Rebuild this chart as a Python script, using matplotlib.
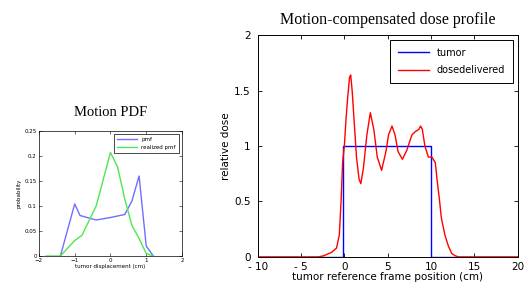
import numpy as np
import matplotlib
matplotlib.use("Agg")
import matplotlib.pyplot as plt

# left chart: motion pdf
pdf_x = [-1.4, -1.0, -0.85, -0.4, 0.0, 0.2, 0.4, 0.6, 0.8, 1.0, 1.2]
pdf_y = [0.0, 0.104, 0.081, 0.072, 0.077, 0.080, 0.083, 0.110, 0.160, 0.020, 0.0]
real_x = [-1.8, -1.4, -1.0, -0.8, -0.4, 0.0, 0.2, 0.4, 0.6, 0.8, 1.0, 1.2]
real_y = [0.0, 0.0, 0.031, 0.041, 0.100, 0.207, 0.178, 0.114, 0.061, 0.035, 0.005, 0.0]

# right chart: dose profile
tumor_x = [-10, -0.2, -0.2, 10.0, 10.0, 20]
tumor_y = [0, 0, 1, 1, 0, 0]
dose_x = [-10, -3.0, -2.4, -1.5, -0.9, -0.58, -0.38, -0.2, 0.0, 0.2, 0.4, 0.6, 0.73,
          0.9, 1.15, 1.4, 1.7, 1.9, 2.2, 2.6, 3.0, 3.4, 3.8, 4.3, 4.8, 5.1, 5.5,
          5.85, 6.2, 6.7, 7.2, 7.8, 8.2, 8.6, 8.8, 9.0, 9.3, 9.7, 10.1, 10.5,
          10.7, 11.0, 11.2, 11.6, 12.0, 12.4, 12.8, 13.2, 20]
dose_y = [0, 0, 0.01, 0.04, 0.08, 0.2, 0.5, 0.85, 1.0, 1.25, 1.45, 1.62, 1.64,
          1.5, 1.2, 0.9, 0.7, 0.66, 0.8, 1.1, 1.3, 1.15, 0.9, 0.78, 0.95, 1.1, 1.18,
          1.1, 0.95, 0.88, 0.96, 1.1, 1.13, 1.15, 1.18, 1.15, 1.0, 0.9, 0.9, 0.85,
          0.7, 0.5, 0.35, 0.2, 0.1, 0.03, 0.01, 0, 0]

fig = plt.figure(figsize=(5.26, 2.97), dpi=100)

# left
ax1 = fig.add_axes([0.074, 0.138, 0.272, 0.421])
ax1.plot(pdf_x, pdf_y, color="#6f6fff", lw=1.0, label="pmf")
ax1.plot(real_x, real_y, color="#4de84d", lw=1.0, label="realized pmf")
ax1.set_xlim(-2, 2)
ax1.set_ylim(0, 0.25)
ax1.set_xticks([-2, -1, 0, 1, 2])
ax1.set_yticks([0, 0.05, 0.1, 0.15, 0.2, 0.25])
ax1.set_yticklabels(["0", "0.05", "0.1", "0.15", "0.2", "0.25"])
ax1.tick_params(direction="in", top=True, right=True, labelsize=4, length=2, width=0.4, pad=1.5)
ax1.set_xlabel("tumor displacement (cm)", fontsize=4, labelpad=1)
ax1.set_ylabel("probability", fontsize=4, labelpad=2)
for s in ax1.spines.values():
    s.set_linewidth(0.5)
ax1.set_title("Motion PDF", fontsize=10.5, family="Liberation Serif", pad=11)
leg1 = ax1.legend(loc="upper right", fontsize=4, fancybox=False, framealpha=1,
                  edgecolor="black", borderpad=0.6, handlelength=3.5)
leg1.get_frame().set_linewidth(0.5)

# right
ax2 = fig.add_axes([0.490, 0.135, 0.494, 0.747])
ax2.plot(tumor_x, tumor_y, color="#0000ff", lw=1.0, label="tumor")
ax2.plot(dose_x, dose_y, color="#ff0000", lw=1.0, label="dosedelivered")
ax2.set_xlim(-10, 20)
ax2.set_ylim(0, 2)
ax2.set_xticks([-10, -5, 0, 5, 10, 15, 20])
ax2.set_xticklabels(["- 10", "- 5", "0", "5", "10", "15", "20"])
ax2.set_yticks([0, 0.5, 1, 1.5, 2])
ax2.set_yticklabels(["0", "0.5", "1", "1.5", "2"])
ax2.tick_params(direction="in", top=True, right=True, labelsize=7.5, length=3, width=0.6)
ax2.tick_params(axis="x", pad=3.5)
ax2.tick_params(axis="y", pad=5)
ax2.set_xlabel("tumor reference frame position (cm)", fontsize=7.5, labelpad=0)
ax2.set_ylabel("relative dose", fontsize=7.5, labelpad=2)
for s in ax2.spines.values():
    s.set_linewidth(0.7)
ax2.set_title("Motion-compensated dose profile", fontsize=11.5, family="Liberation Serif", pad=8)
leg2 = ax2.legend(loc="upper right", fontsize=7, fancybox=False, framealpha=1,
                  edgecolor="black", borderpad=0.8, labelspacing=0.8, handlelength=3.2)
leg2.get_frame().set_linewidth(0.7)

fig.savefig("out.png", dpi=100)
